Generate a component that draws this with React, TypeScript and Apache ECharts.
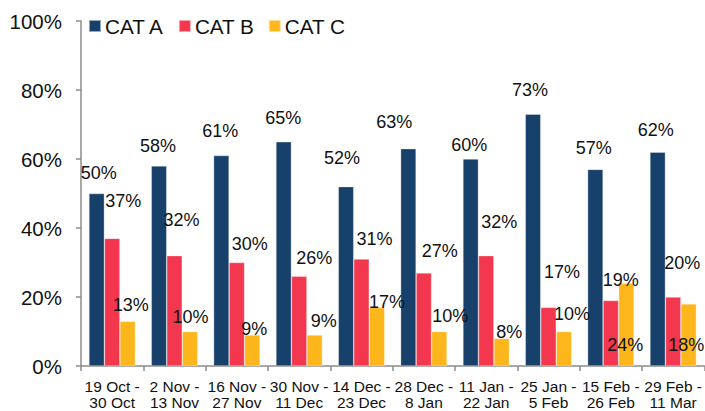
import React, { useEffect, useRef } from "react";
import * as echarts from "echarts";

const categories = [
  "19 Oct -\n30 Oct",
  "2 Nov -\n13 Nov",
  "16 Nov -\n27 Nov",
  "30 Nov -\n11 Dec",
  "14 Dec -\n23 Dec",
  "28 Dec -\n8 Jan",
  "11 Jan -\n22 Jan",
  "25 Jan -\n5 Feb",
  "15 Feb -\n26 Feb",
  "29 Feb -\n11 Mar",
];
const catA = [50, 58, 61, 65, 52, 63, 60, 73, 57, 62];
const catB = [37, 32, 30, 26, 31, 27, 32, 17, 19, 20];
const catC = [13, 10, 9, 9, 17, 10, 8, 10, 24, 18];
const seriesNames = ["CAT A", "CAT B", "CAT C"];
const yTicks = [0, 20, 40, 60, 80, 100];

// label offsets (dx, dy from bar top) to mimic the original placement
const offsA = [[2, -21], [-1, -20], [-1, -25], [-0.5, -24], [-4, -29], [-14, -27], [-1.5, -14], [-3, -24], [-1.5, -21], [-2, -22]];
const offsB = [[11, -37], [7, -36], [13, -19], [15, -18], [13, -20], [16, -22], [13, -34], [13.5, -35], [10, -20], [9, -34]];
const offsC = [[3, -16], [0.5, -15], [2, -6], [9, -14], [10, -5.5], [11, -16], [7.5, -6.5], [8, -18], [-1, 62], [-2.5, 41]];

const colors = ["#17416B", "#F2374E", "#FDB71D"];
const FONT = "Liberation Sans, Arial, sans-serif";

function makeSeries(name: string, values: number[], offs: number[][], color: string) {
  return {
    name,
    type: "bar",
    barWidth: 15.5,
    barGap: "0%",
    itemStyle: { color, borderColor: "rgba(255,255,255,0.55)", borderWidth: 0.6 },
    label: {
      show: true,
      position: "top",
      distance: 0,
      verticalAlign: "middle",
      align: "center",
      fontSize: 18,
      fontFamily: FONT,
      color: "#111",
      formatter: "{c}%",
    },
    data: values.map((v, i) => ({ value: v, label: { offset: offs[i] } })),
  };
}

export default function App() {
  const ref = useRef<HTMLDivElement>(null);
  useEffect(() => {
    if (!ref.current) return;
    const chart = echarts.init(ref.current, null, { renderer: "svg" });
    chart.setOption({
      animation: false,
      backgroundColor: "#ffffff",
      textStyle: { fontFamily: FONT },
      legend: {
        data: seriesNames,
        left: 88,
        top: 15.5,
        padding: 0,
        itemWidth: 12,
        itemHeight: 12,
        itemGap: 13.5,
        icon: "rect",
        textStyle: {
          fontSize: 20.7,
          lineHeight: 21,
          fontFamily: FONT,
          color: "#111",
          padding: [0, 0, 0, -1],
        },
      },
      grid: { left: 81, right: 0, top: 21, bottom: 45, containLabel: false },
      xAxis: {
        type: "category",
        data: categories,
        boundaryGap: true,
        axisLine: { show: true, lineStyle: { color: "#8c8c8c", width: 1.5 } },
        axisTick: { show: true, interval: 0, length: 5, lineStyle: { color: "#8c8c8c", width: 1.5 } },
        axisLabel: {
          interval: 0,
          fontSize: 15.5,
          lineHeight: 16.5,
          margin: 12,
          color: "#111",
          fontFamily: FONT,
        },
      },
      yAxis: {
        type: "value",
        min: yTicks[0],
        max: yTicks[yTicks.length - 1],
        interval: 20,
        axisLine: { show: true, lineStyle: { color: "#8c8c8c", width: 1.5 } },
        axisTick: { show: true, length: 5, lineStyle: { color: "#8c8c8c", width: 1.5 } },
        splitLine: { show: false },
        axisLabel: {
          formatter: "{value}%",
          fontSize: 20.5,
          margin: 19,
          color: "#111",
          fontFamily: FONT,
        },
      },
      series: [
        makeSeries(seriesNames[0], catA, offsA, colors[0]),
        makeSeries(seriesNames[1], catB, offsB, colors[1]),
        makeSeries(seriesNames[2], catC, offsC, colors[2]),
      ],
    });
    return () => chart.dispose();
  }, []);
  return (
    <div
      ref={ref}
      style={{ position: "absolute", left: 0, top: 0, width: 705, height: 411 }}
    />
  );
}
